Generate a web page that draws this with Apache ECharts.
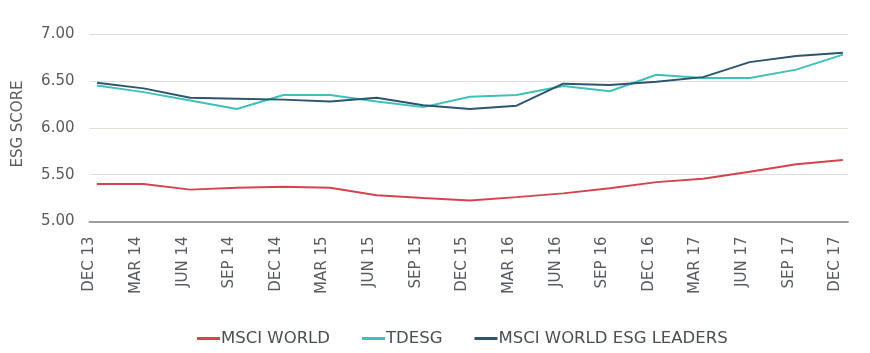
<!DOCTYPE html>
<html>
<head>
<meta charset="utf-8">
<script src="https://cdn.jsdelivr.net/npm/echarts@6/dist/echarts.min.js"></script>
<style>html,body{margin:0;padding:0;background:#fff;}#c{width:870px;height:353px;}</style>
</head>
<body>
<div id="c"></div>
<script>
var categories = ['DEC 13','MAR 14','JUN 14','SEP 14','DEC 14','MAR 15','JUN 15','SEP 15','DEC 15','MAR 16','JUN 16','SEP 16','DEC 16','MAR 17','JUN 17','SEP 17','DEC 17'];
var msciWorld = [5.40,5.40,5.34,5.36,5.37,5.36,5.28,5.25,5.225,5.26,5.30,5.355,5.42,5.455,5.53,5.61,5.655];
var tdesg = [6.45,6.38,6.29,6.20,6.35,6.35,6.28,6.22,6.33,6.35,6.445,6.39,6.565,6.53,6.53,6.62,6.78];
var esgLeaders = [6.48,6.42,6.32,6.31,6.30,6.28,6.32,6.24,6.20,6.235,6.47,6.456,6.49,6.54,6.70,6.765,6.80];
var yTicks = [5.00,5.50,6.00,6.50,7.00];
var seriesNames = ['MSCI WORLD','TDESG','MSCI WORLD ESG LEADERS'];
var yTitle = 'ESG SCORE';

function pts(arr){ return arr.map(function(v,i){ return [i,v]; }); }
var font = 'DejaVu Sans';
var txt = '#585c62';
var shift = 0.16;
var chart = echarts.init(document.getElementById('c'));
chart.setOption({
  animation:false,
  grid:{left:89.5,right:22,top:34,bottom:131.5},
  graphic:[{
    type:'text', x:18, y:124, rotation:Math.PI/2,
    style:{text:yTitle, fontFamily:font, fontSize:15, fill:txt, align:'center', verticalAlign:'middle'}
  }],
  legend:{
    top:325, left:192, itemWidth:23, itemHeight:3, itemGap:32,
    icon:'rect',
    textStyle:{fontFamily:font,fontSize:16.5,color:'#4a4f55',padding:[0,0,0,-4]},
    data:seriesNames
  },
  xAxis:{
    type:'value', min:-shift, max:16.11,
    splitLine:{show:false},
    axisLine:{show:true,onZero:false,lineStyle:{color:'#9a9c9f',width:2}},
    axisTick:{show:false},
    axisLabel:{
      customValues: categories.map(function(c,i){return i-shift;}),
      rotate:90, margin:15,
      fontFamily:font, fontSize:15, color:txt,
      formatter:function(v){ return categories[Math.round(v+shift)]; }
    }
  },
  yAxis:{
    type:'value', min:yTicks[0], max:yTicks[yTicks.length-1], interval:0.5,
    axisLine:{show:false}, axisTick:{show:false},
    axisLabel:{fontFamily:font,fontSize:15,color:txt,margin:15,
      formatter:function(v){ return v.toFixed(2); }},
    splitLine:{lineStyle:{color:'#e2ddd6',width:1}}
  },
  series:[
    {name:seriesNames[0],type:'line',data:pts(msciWorld),symbol:'none',
      lineStyle:{color:'#d5434d',width:2},itemStyle:{color:'#d5434d'},z:3},
    {name:seriesNames[1],type:'line',data:pts(tdesg),symbol:'none',
      lineStyle:{color:'#3fc0b8',width:2},itemStyle:{color:'#3fc0b8'},z:3},
    {name:seriesNames[2],type:'line',data:pts(esgLeaders),symbol:'none',
      lineStyle:{color:'#2e5470',width:2},itemStyle:{color:'#2e5470'},z:4}
  ]
});
</script>
</body>
</html>
